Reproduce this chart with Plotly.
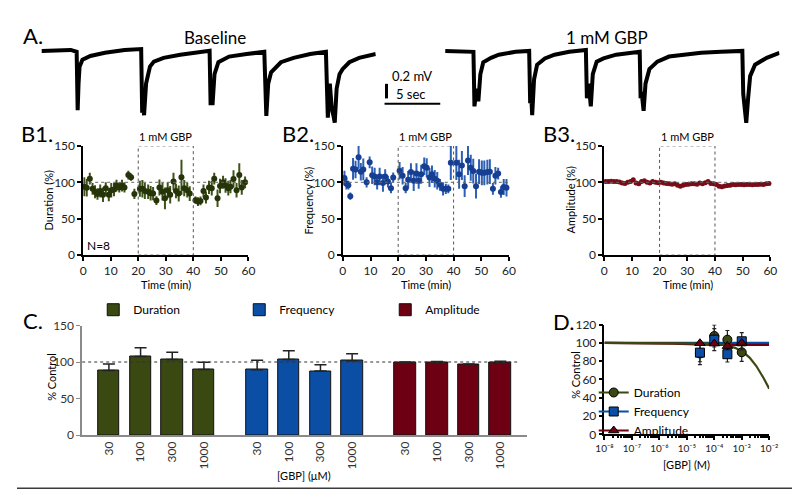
import plotly.graph_objects as go
import numpy as np

W, H = 800, 489
FONT = "Lato"

# ---------------- Panel A: example traces (time in s, voltage in mV relative to baseline)
base_t = [0, 1.32, 2.63, 3.16, 3.25, 3.33, 3.42, 3.68, 4.39, 5.70, 7.46, 8.95, 9.04, 9.12, 9.21, 9.39,
          9.74, 10.09, 10.96, 12.46, 14.04, 15.09, 15.18, 15.26, 15.35, 15.53, 15.88, 16.84, 18.42,
          20.0, 20.18, 20.35, 20.61, 20.88, 21.49, 22.63, 24.12, 25.53, 25.70, 25.88, 26.05, 26.23,
          26.32, 26.49, 26.75, 27.02, 27.63, 28.51, 29.39, 30.0]
base_v = [0, 0.015, 0.015, -0.015, -0.94, -0.52, -0.25, -0.14, -0.08, -0.03, 0.015, 0.03, -0.98, -0.86,
          -1.02, -0.52, -0.25, -0.17, -0.11, -0.06, -0.015, 0, -0.86, -0.68, -0.86, -0.37, -0.18, -0.09,
          -0.05, -0.015, -1.03, -0.52, -0.34, -0.29, -0.18, -0.11, -0.05, -0.015, -1.06, -0.52, -0.91,
          -1.05, -1.14, -0.6, -0.37, -0.29, -0.18, -0.11, -0.08, -0.05]
gbp_t = [0, 1.49, 2.54, 2.63, 2.81, 2.98, 3.16, 3.42, 4.12, 4.82, 6.32, 7.54, 7.63, 7.72, 7.81, 7.98,
         8.25, 8.95, 9.82, 11.14, 12.63, 12.72, 12.89, 13.07, 13.25, 13.6, 14.21, 15.35, 16.4, 17.46,
         17.54, 17.63, 17.81, 17.98, 18.33, 19.04, 20.09, 21.67, 22.98, 24.74, 26.67, 26.75, 26.93,
         27.02, 27.19, 27.37, 27.81, 28.86, 30.0]
gbp_v = [0, 0, -0.015, -0.88, -0.6, -0.8, -0.37, -0.18, -0.11, -0.06, -0.015, 0, -0.83, -0.68, -1.02,
         -0.45, -0.22, -0.12, -0.06, -0.015, 0.015, -0.75, -0.52, -0.88, -0.37, -0.17, -0.12, -0.06,
         -0.03, -0.015, -0.75, -0.65, -0.95, -0.52, -0.29, -0.17, -0.09, -0.05, -0.03, -0.015, 0,
         -0.68, -0.98, -1.14, -0.75, -0.4, -0.22, -0.11, -0.03]

# ---------------- Panel B: time courses (% of baseline)
dur_t = [0.4, 1.3, 2.4, 3.4, 4.3, 5.2, 6.2, 7.2, 8.2, 9.3, 10.2, 11.2, 12.1, 13.1, 14.1, 15.0, 16.4,
         17.4, 18.6, 20.6, 21.5, 22.4, 23.6, 24.5, 25.4, 26.6, 27.7, 28.8, 29.7, 30.7, 31.6, 32.8,
         33.7, 34.7, 35.7, 36.7, 37.8, 38.7, 40.8, 41.7, 42.6, 43.7, 44.6, 45.7, 46.7, 47.6, 48.8,
         49.7, 50.8, 51.7, 52.7, 53.5, 54.6, 55.7, 56.7, 57.6, 58.8]
dur_v = [94, 92.5, 105, 91, 87, 84, 88, 83, 92, 83, 89, 90, 95.5, 93, 95.5, 93, 110, 107, 84, 91, 91,
         88, 87, 85, 84.5, 75, 93, 87, 78, 89, 83, 101, 88, 84.5, 107, 92, 89, 84.5, 75.5, 73.5, 74.5,
         88, 79, 93, 92, 105, 78, 95, 100, 95.5, 92, 94, 104.5, 89, 110, 93, 100]
dur_err = [13, 12, 8, 8, 9, 8, 9, 10, 8, 9, 10, 9, 8, 7, 8, 7, 6, 5, 7, 11, 12, 11, 10, 10, 9, 6, 11,
           12, 15, 11, 12, 12, 10, 11, 24, 11, 10, 10, 5, 6, 6, 9, 8, 9, 10, 8, 12, 10, 9, 10, 10, 9,
           12, 10, 16, 10, 8]

freq_t = [0.6, 1.3, 2.0, 2.7, 3.7, 4.6, 5.7, 6.5, 7.4, 8.6, 9.7, 10.6, 11.5, 12.4, 13.3, 14.5, 15.3,
          16.3, 17.4, 18.2, 20.5, 21.6, 22.7, 23.6, 24.6, 25.6, 26.6, 27.4, 28.3, 29.4, 30.3, 31.3,
          32.2, 33.2, 34.1, 35.1, 36.2, 37.2, 38.1, 39.0, 41.0, 42.0, 43.0, 44.0, 45.2, 46.2, 47.1,
          48.1, 49.2, 50.2, 51.1, 52.2, 53.1, 54.2, 55.1, 56.1, 57.1, 58.1, 59.1]
freq_v = [105.8, 98, 96, 81, 118.5, 117.7, 134.5, 114.6, 117.7, 100, 127.4, 109.7, 108, 100, 108, 99,
          108, 101, 92, 106.6, 116, 109, 92, 103.5, 114, 102, 112, 102, 111, 122, 120, 106.6, 111,
          105, 102, 96.5, 91, 91, 91, 127, 127, 111, 123, 94.7, 130, 120, 115.5, 94.7, 114.6, 113,
          113, 114, 114.6, 91, 109, 112, 86.7, 93.4, 92.5]
freq_err = [10, 8, 6, 5, 15, 12, 16, 12, 15, 7, 8, 12, 12, 10, 12, 12, 10, 8, 7, 7, 12, 12, 7, 12, 12,
            14, 14, 11, 13, 12, 13, 13, 12, 12, 12, 8, 9, 7, 6, 24, 24, 20, 20, 15, 20, 18, 17, 17, 17,
            17, 17, 17, 17, 8, 12, 8, 8, 11, 12]

amp_t = [i + 0.5 for i in range(60)]
amp_v = [101, 101, 101.5, 101, 101, 100.5, 99, 98.5, 100, 101,
         103.5, 99, 98, 101, 102, 100, 99, 101, 100, 99.5,
         100, 99, 98.5, 98, 97.5, 98, 96, 94.5, 96, 97,
         97.5, 98, 98, 97.5, 99, 98, 99.5, 101, 98.5, 98,
         97, 94.5, 94, 95, 95.5, 96, 97, 96.5, 97, 97,
         96.5, 97, 97, 96.5, 97, 97, 97.5, 97, 98, 98.5]
amp_err = [1.5] * 40 + [2.5] * 20

# ---------------- Panel C / D: concentration response (% control)
conc_uM = [30, 100, 300, 1000]
c_dur = [88.4, 107.5, 103.5, 89.7]
c_dur_err = [9, 12, 10, 10]
c_freq = [89.3, 103.5, 87.6, 101.7]
c_freq_err = [13, 12, 8.5, 9.5]
c_amp = [99.6, 99.2, 96.4, 99.9]
c_amp_err = [0.6, 1.5, 1.0, 1.3]

# dose-response fit parameters (top, bottom, logIC50 [M], Hill slope)
fit_top = [100, 100, 100]
fit_bottom = [0, 100, 97.7]
fit_log_ic50 = [-2.0, -4.0, -5.3]
fit_hill = [1.0, 1.0, 1.0]

# log axis decades for panel D
d_exponents = [-8, -7, -6, -5, -4, -3, -2]
sup = {"-": "⁻", "0": "⁰", "1": "¹", "2": "²", "3": "³", "4": "⁴", "5": "⁵", "6": "⁶", "7": "⁷", "8": "⁸", "9": "⁹"}

names = ["Duration", "Frequency", "Amplitude"]
bar_colors = ["#3a4912", "#0b4ea6", "#6d0012"]
pt_colors = ["#26340a", "#163f92", "#7a0c18"]
err_colors = ["#3f5217", "#2d5fb5", "#7a0c18"]


def px(x):
    return x / W


def py(y):
    return 1 - y / H


fig = go.Figure()

# ----- A traces
fig.add_trace(go.Scatter(x=base_t, y=base_v, mode="lines", line=dict(color="black", width=4),
                         xaxis="x", yaxis="y", showlegend=False, hoverinfo="skip"))
fig.add_trace(go.Scatter(x=gbp_t, y=gbp_v, mode="lines", line=dict(color="black", width=4),
                         xaxis="x2", yaxis="y2", showlegend=False, hoverinfo="skip"))

# ----- B time courses
bsets = [(dur_t, dur_v, dur_err, 6), (freq_t, freq_v, freq_err, 6), (amp_t, amp_v, amp_err, 5)]
for k, (t, v, e, ms) in enumerate(bsets):
    ax = str(3 + k)
    fig.add_trace(go.Scatter(
        x=t, y=v, mode="markers", xaxis="x" + ax, yaxis="y" + ax, showlegend=False,
        marker=dict(color=pt_colors[k], size=ms, line=dict(width=0)),
        error_y=dict(type="data", array=e, color=err_colors[k], thickness=2 if k < 2 else 1, width=0),
        cliponaxis=False))

# ----- C bars
n_conc = len(conc_uM)
group_gap = 0.68
c_vals = [(c_dur, c_dur_err), (c_freq, c_freq_err), (c_amp, c_amp_err)]
tickvals, ticktext = [], []
for g, (vals, errs) in enumerate(c_vals):
    pos = [g * (n_conc + group_gap) + i for i in range(n_conc)]
    tickvals += pos
    ticktext += [str(c) for c in conc_uM]
    fig.add_trace(go.Bar(
        x=pos, y=vals, width=0.68, name=names[g], xaxis="x6", yaxis="y6", legend="legend",
        marker=dict(color=bar_colors[g], line=dict(color="#111111", width=1)),
        error_y=dict(type="data", symmetric=False, array=errs, arrayminus=[0] * n_conc,
                     color="#222222", thickness=1.5, width=6)))

# ----- D fits then points
xfit = np.logspace(-8, -2, 200)
fit_order = [1, 2, 0]
for k in fit_order:
    yfit = fit_bottom[k] + (fit_top[k] - fit_bottom[k]) / (1 + 10 ** ((np.log10(xfit) - fit_log_ic50[k]) * fit_hill[k]))
    fig.add_trace(go.Scatter(x=xfit, y=yfit, mode="lines", xaxis="x7", yaxis="y7", showlegend=False,
                             line=dict(color=bar_colors[k], width=2.2), hoverinfo="skip"))

symbols = ["circle", "square", "triangle-up"]
for k, (vals, errs) in enumerate(c_vals):
    xm, ym, em = [], [], []
    for c, v, e in zip(conc_uM, vals, errs):
        xm += [c * 1e-6, None]
        ym += [v, None]
        em += [e, 0]
    fig.add_trace(go.Scatter(
        x=xm, y=ym, mode="lines+markers", name=names[k], xaxis="x7", yaxis="y7", legend="legend2",
        connectgaps=False, line=dict(color=bar_colors[k], width=2),
        marker=dict(symbol=symbols[k], size=9, color=bar_colors[k], line=dict(color="black", width=1)),
        error_y=dict(type="data", array=em, color="#222222", thickness=1.2, width=2),
        cliponaxis=False))

# ----- layout
hidden = dict(visible=False, showgrid=False, zeroline=False, fixedrange=True)
tfont = dict(family=FONT, size=12, color="#222222")
b_x = dict(range=[0, 60], tickvals=[0, 10, 20, 30, 40, 50, 60], ticks="outside", ticklen=4, tickwidth=1.5,
           showline=True, linecolor="black", linewidth=1.5, showgrid=False, zeroline=False,
           tickfont=tfont, tickcolor="black")
b_y = dict(range=[0, 150], tickvals=[0, 50, 100, 150], ticks="outside", ticklen=4, tickwidth=1.5,
           showline=True, linecolor="black", linewidth=1.5, showgrid=False, zeroline=False,
           tickfont=tfont, tickcolor="black")
b_ydom = [py(246.7), py(134)]

d_tickvals = [10.0 ** e for e in d_exponents]
d_ticktext = ["10" + "".join(sup[ch] for ch in str(e)) for e in d_exponents]
d_minor = [m * 10.0 ** e for e in d_exponents[:-1] for m in range(2, 10)]

layout = dict(
    width=W, height=H, margin=dict(l=0, r=0, t=0, b=0),
    paper_bgcolor="white", plot_bgcolor="rgba(0,0,0,0)",
    font=dict(family=FONT, color="black"),
    bargap=0,
    xaxis=dict(domain=[px(25), px(367)], range=[0, 30], **hidden),
    yaxis=dict(domain=[py(115), py(25)], range=[-1.215, 0.169], **hidden),
    xaxis2=dict(domain=[px(438), px(780)], range=[0, 30], **hidden),
    yaxis2=dict(domain=[py(115), py(25)], range=[-1.215, 0.169], **hidden),
    xaxis3=dict(domain=[px(67.7), px(236.7)], anchor="y3", **b_x),
    yaxis3=dict(domain=b_ydom, anchor="x3", **b_y),
    xaxis4=dict(domain=[px(333.3), px(503.3)], anchor="y4", **b_x),
    yaxis4=dict(domain=b_ydom, anchor="x4", **b_y),
    xaxis5=dict(domain=[px(600.7), px(770.7)], anchor="y5", **b_x),
    yaxis5=dict(domain=b_ydom, anchor="x5", **b_y),
    xaxis6=dict(domain=[px(66.7), px(521.7)], anchor="y6", range=[-0.843, 13.2],
                tickvals=tickvals, ticktext=ticktext, tickangle=-90, ticks="",
                showline=True, linecolor="#8a8a8a", linewidth=1.5, showgrid=False, zeroline=False,
                tickfont=dict(family=FONT, size=12, color="#333333")),
    yaxis6=dict(domain=[py(432.3), py(319.3)], anchor="x6", range=[0, 150], tickvals=[0, 50, 100, 150],
                ticks="outside", ticklen=4, tickcolor="#8a8a8a", showline=True, linecolor="#8a8a8a",
                linewidth=1.5, showgrid=False, zeroline=False,
                tickfont=dict(family=FONT, size=12, color="#333333")),
    xaxis7=dict(domain=[px(601), px(769.5)], anchor="y7", type="log", range=[-8, -2],
                tickvals=d_tickvals, ticktext=d_ticktext, ticks="outside", ticklen=4, tickwidth=1.5,
                tickcolor="black", minor=dict(ticks="outside", ticklen=2, tickcolor="black", tickvals=d_minor),
                showline=True, linecolor="black", linewidth=1.5, showgrid=False, zeroline=False,
                tickfont=dict(family=FONT, size=10, color="#222222")),
    yaxis7=dict(domain=[py(431.7), py(318.3)], anchor="x7", range=[0, 120], dtick=20, ticks="outside",
                ticklen=4, tickwidth=1.5, tickcolor="black", showline=True, linecolor="black",
                linewidth=1.5, showgrid=False, zeroline=False,
                tickfont=dict(family=FONT, size=12, color="#222222")),
    legend=dict(orientation="h", x=px(78), y=py(303), xanchor="left", yanchor="middle",
                entrywidth=101, entrywidthmode="pixels", font=dict(family=FONT, size=12),
                bgcolor="rgba(0,0,0,0)", itemclick=False),
    legend2=dict(orientation="v", x=px(590), y=py(408), xanchor="left", yanchor="middle",
                 font=dict(family=FONT, size=12), bgcolor="rgba(0,0,0,0)", itemwidth=30),
)
fig.update_layout(**layout)

ann = []


def text(s, x, y, size, xanchor="center", yanchor="middle", angle=0, color="black"):
    ann.append(dict(text=s, x=px(x), y=py(y), xref="paper", yref="paper", showarrow=False,
                    xanchor=xanchor, yanchor=yanchor, textangle=angle,
                    font=dict(family=FONT, size=size, color=color)))


text("A.", 4, 20, 22, xanchor="left")
text("Baseline", 203, 22, 17)
text("1 mM GBP", 604, 22, 17)
text("0.2 mV", 382, 62, 13, xanchor="left")
text("5 sec", 386, 80, 13, xanchor="left")
text("B1.", 2, 121, 22, xanchor="left")
text("B2.", 269, 121, 22, xanchor="left")
text("B3.", 536, 121, 22, xanchor="left")
text("C.", 4, 314, 22, xanchor="left")
text("D.", 546, 315, 22, xanchor="left")
text("Duration (%)", 32, 190, 11, angle=-90)
text("Frequency (%)", 298, 190, 11, angle=-90)
text("Amplitude (%)", 566, 190, 11, angle=-90)
for cx in [152, 418, 686]:
    text("Time (min)", cx, 277, 11)
text("% Control", 35, 372, 11, angle=-90)
text("[GBP] (μM)", 294, 474, 11)
text("% Control", 572, 370, 11, angle=-90)
text("[GBP] (M)", 685, 463, 11)

shapes = []
for ax in ["3", "4", "5"]:
    ann.append(dict(text="1 mM GBP", x=30, y=150, xref="x" + ax, yref="y" + ax, showarrow=False,
                    yanchor="bottom", yshift=1, font=dict(family=FONT, size=11, color="black")))
    shapes.append(dict(type="rect", xref="x" + ax, yref="y" + ax, x0=20, x1=40, y0=0, y1=150,
                       line=dict(color="#555555", width=1, dash="dot")))
    shapes.append(dict(type="line", xref="x" + ax, yref="y" + ax, x0=0, x1=60, y0=100, y1=100,
                       line=dict(color="#666666", width=1, dash="dot")))
ann.append(dict(text="N=8", x=0.8, y=13, xref="x3", yref="y3", showarrow=False, xanchor="left",
                font=dict(family=FONT, size=12, color="black")))

shapes.append(dict(type="line", xref="x6 domain", yref="y6", x0=0, x1=0.978, y0=100, y1=100,
                   line=dict(color="#333333", width=1, dash="dot")))
# scale bars
shapes.append(dict(type="line", xref="paper", yref="paper", x0=px(378), x1=px(378), y0=py(85), y1=py(70),
                   line=dict(color="black", width=3)))
shapes.append(dict(type="line", xref="paper", yref="paper", x0=px(376), x1=px(433), y0=py(90.5), y1=py(90.5),
                   line=dict(color="black", width=2)))
# frame
shapes.append(dict(type="line", xref="paper", yref="paper", x0=0, x1=px(796), y0=py(487.5), y1=py(487.5),
                   line=dict(color="#3a3a3a", width=2)))
shapes.append(dict(type="line", xref="paper", yref="paper", x0=px(795.5), x1=px(795.5), y0=py(488), y1=1,
                   line=dict(color="#3a3a3a", width=2)))

fig.update_layout(annotations=ann, shapes=shapes)
fig.write_html("out.html")
